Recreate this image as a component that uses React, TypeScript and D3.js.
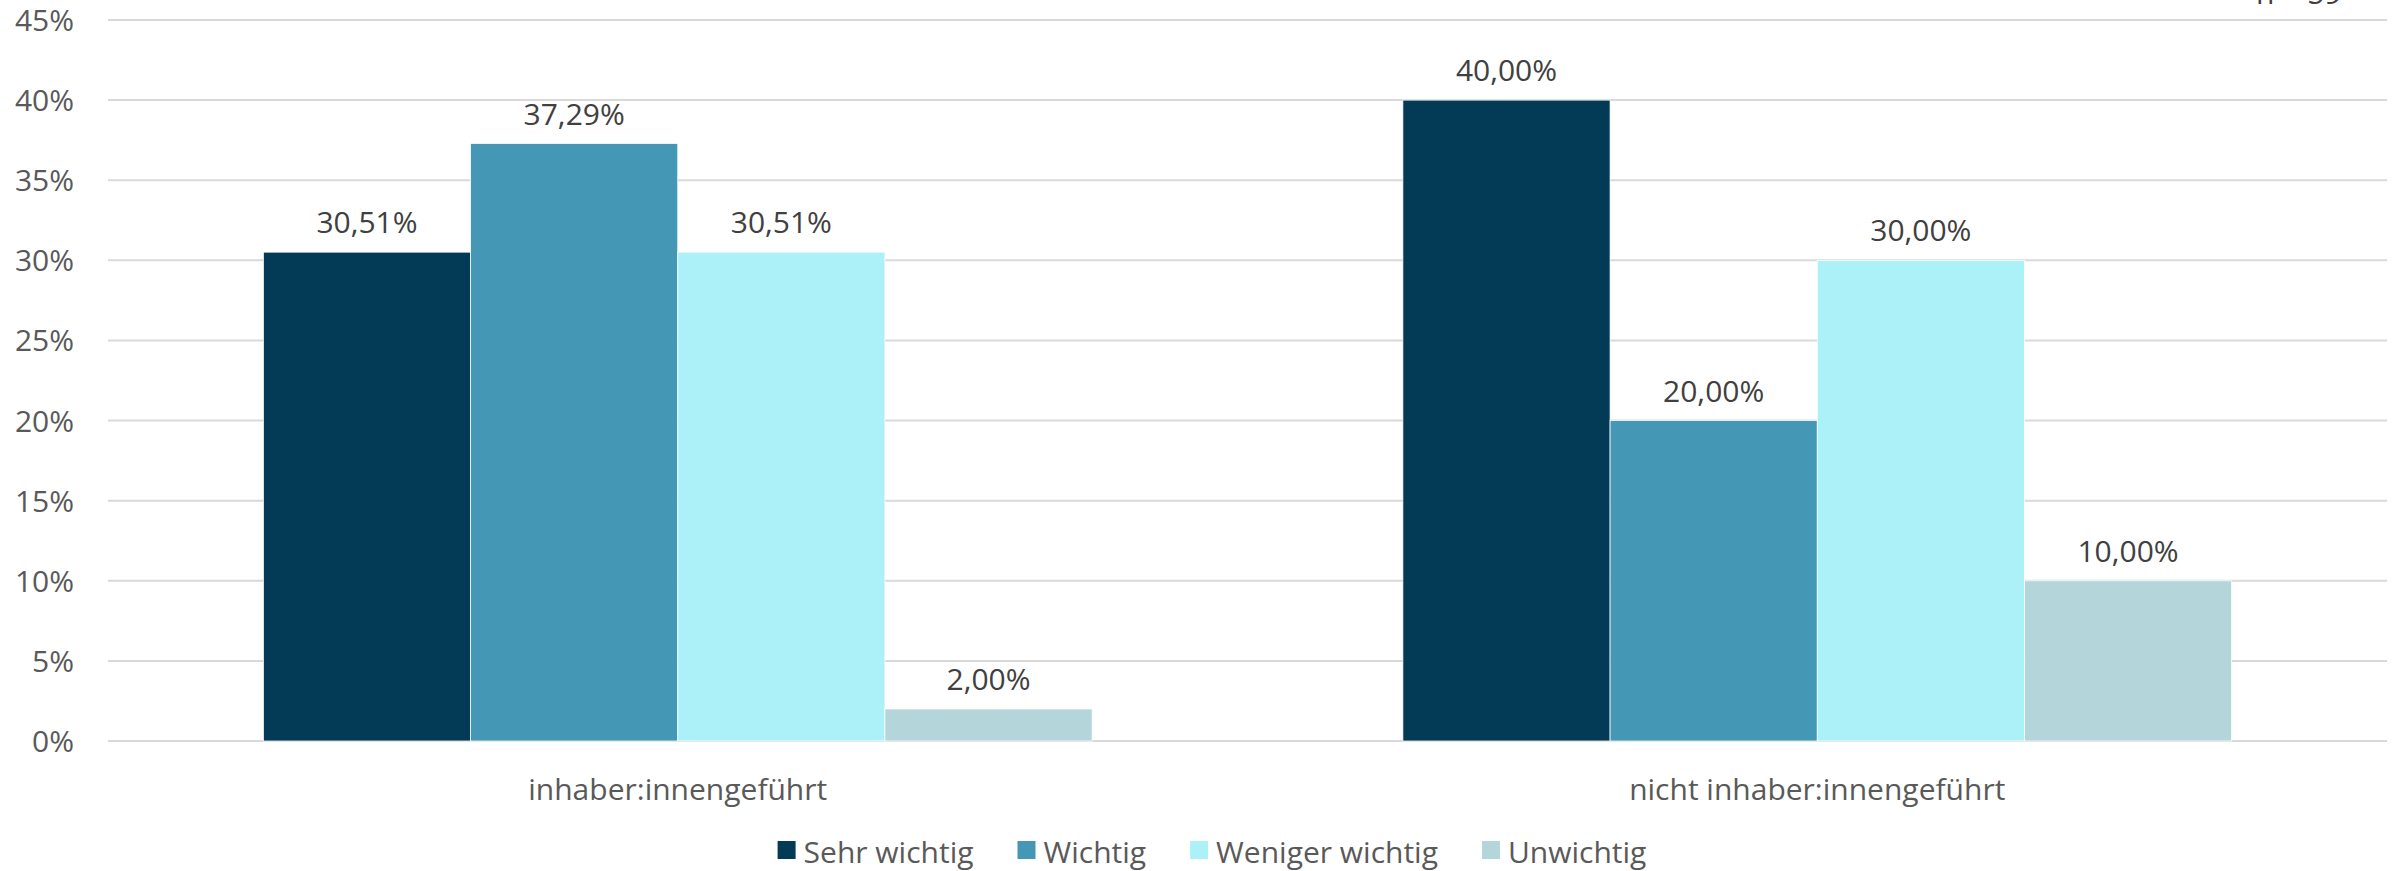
import React, { useEffect, useRef } from "react";
import * as d3 from "d3";

const categories = ["inhaber:innengeführt", "nicht inhaber:innengeführt"];
const seriesNames = ["Sehr wichtig", "Wichtig", "Weniger wichtig", "Unwichtig"];
const sehrWichtig = [30.51, 40.0];
const wichtig = [37.29, 20.0];
const wenigerWichtig = [30.51, 30.0];
const unwichtig = [2.0, 10.0];
const seriesValues = [sehrWichtig, wichtig, wenigerWichtig, unwichtig];
const seriesColors = ["#033a56", "#4598b5", "#acf1f7", "#b4d6db"];
const yTicks = [0, 5, 10, 15, 20, 25, 30, 35, 40, 45];
const noteText = "n = 59";

const W = 2397;
const H = 871;
const FONT = "'Open Sans', sans-serif";

export default function App() {
  const ref = useRef<SVGSVGElement | null>(null);

  useEffect(() => {
    const svg = d3.select(ref.current);
    svg.selectAll("*").remove();

    const left = 108;
    const right = 2387;
    const y = d3.scaleLinear().domain([0, 45]).range([741, 20]);
    const x0 = d3.scaleBand<string>().domain(categories).range([left, right]).padding(0);
    const bw = x0.bandwidth();
    const groupW = (bw * 4) / 5.5;
    const x1 = d3.scaleBand<string>().domain(seriesNames).range([0, groupW]).padding(0);

    // gridlines
    svg
      .append("g")
      .selectAll("line")
      .data(yTicks)
      .join("line")
      .attr("x1", left)
      .attr("x2", right)
      .attr("y1", (d) => y(d))
      .attr("y2", (d) => y(d))
      .attr("stroke", "#d9d9d9")
      .attr("stroke-width", 2);

    // y tick labels
    svg
      .append("g")
      .selectAll("text")
      .data(yTicks)
      .join("text")
      .attr("x", 74)
      .attr("y", (d) => y(d) + 11)
      .attr("text-anchor", "end")
      .attr("font-family", FONT)
      .attr("font-size", 30)
      .attr("fill", "#595959")
      .text((d) => `${d}%`);

    // bars
    const flat: { cat: string; s: string; v: number; i: number }[] = [];
    categories.forEach((c, ci) => {
      seriesNames.forEach((s, si) => {
        flat.push({ cat: c, s, v: seriesValues[si][ci], i: si });
      });
    });
    const bx = (d: { cat: string; s: string }) =>
      (x0(d.cat) as number) + (bw - groupW) / 2 + (x1(d.s) as number);

    svg
      .append("g")
      .selectAll("rect")
      .data(flat)
      .join("rect")
      .attr("x", (d) => bx(d))
      .attr("y", (d) => y(d.v))
      .attr("width", x1.bandwidth())
      .attr("height", (d) => y(0) - y(d.v))
      .attr("fill", (d) => seriesColors[d.i])
      .attr("stroke", "#ffffff")
      .attr("stroke-width", 0.75);

    // data labels
    svg
      .append("g")
      .selectAll("text")
      .data(flat)
      .join("text")
      .attr("x", (d) => bx(d) + x1.bandwidth() / 2)
      .attr("y", (d) => y(d.v) - 19)
      .attr("text-anchor", "middle")
      .attr("font-family", FONT)
      .attr("font-size", 30)
      .attr("fill", "#404040")
      .text((d) => d.v.toFixed(2).replace(".", ",") + "%");

    // category labels
    svg
      .append("g")
      .selectAll("text")
      .data(categories)
      .join("text")
      .attr("x", (d) => (x0(d) as number) + bw / 2)
      .attr("y", 800)
      .attr("text-anchor", "middle")
      .attr("font-family", FONT)
      .attr("font-size", 30)
      .attr("fill", "#595959")
      .text((d) => d);

    // legend
    const lg = svg.append("g");
    const sq = 18;
    const gapText = 8;
    const gapItem = 44;
    let cx = 0;
    const items = seriesNames.map((name, i) => {
      const g = lg.append("g");
      g.append("rect")
        .attr("x", 0)
        .attr("y", 841)
        .attr("width", sq)
        .attr("height", sq)
        .attr("fill", seriesColors[i]);
      const t = g
        .append("text")
        .attr("x", sq + gapText)
        .attr("y", 863)
        .attr("font-family", FONT)
        .attr("font-size", 30)
        .attr("fill", "#595959")
        .text(name);
      const tw = (t.node() as SVGTextElement).getComputedTextLength();
      g.attr("transform", `translate(${cx},0)`);
      cx += sq + gapText + tw + gapItem;
      return g;
    });
    const totalW = cx - gapItem;
    const startX = 1212 - totalW / 2;
    lg.attr("transform", `translate(${startX},0)`);
    void items;

    // note at top right (cut off)
    svg
      .append("text")
      .attr("x", 2256)
      .attr("y", 4)
      .attr("font-family", FONT)
      .attr("font-size", 30)
      .attr("fill", "#404040")
      .text(noteText);
  }, []);

  return (
    <svg
      ref={ref}
      width={W}
      height={H}
      style={{ position: "absolute", left: 0, top: 0, background: "#ffffff" }}
    />
  );
}
